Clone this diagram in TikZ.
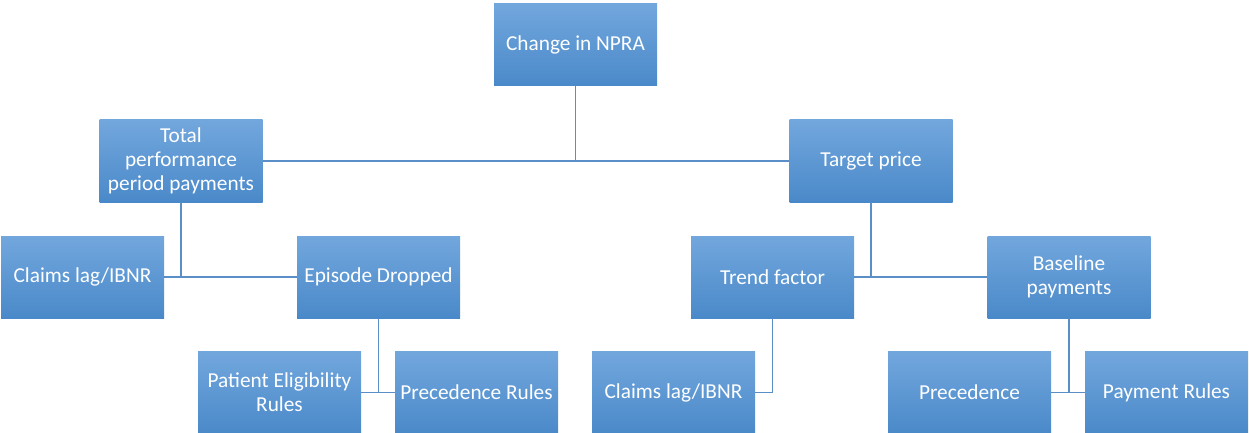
\documentclass[tikz,border=0pt]{standalone}
\usepackage{fontspec}
\setmainfont{Carlito}
\definecolor{boxtop}{HTML}{72A7DD}
\definecolor{boxbot}{HTML}{4A89C9}
\definecolor{linkc}{HTML}{5A8EC6}
\begin{document}
\begin{tikzpicture}[x=1pt,y=-1pt,
  box/.style={rectangle, minimum width=163pt, minimum height=82pt, inner sep=0pt,
    top color=boxtop, bottom color=boxbot, text=white, align=center,
    font=\fontsize{21.3}{24}\selectfont},
  link/.style={draw=linkc, line width=1.5pt}]
\useasboundingbox (0,0) rectangle (1249,433);
\node[box] (npra) at (575.5,45) {Change in NPRA};
\node[box] (tpp) at (181,161) {Total\\performance\\period payments};
\node[box] (tp) at (871,161) {Target price};
\node[box] (cl1) at (82.5,277) {Claims lag/IBNR};
\node[box] (ed) at (378.5,277) {Episode Dropped};
\node[box] (tf) at (772.5,277) {Trend factor};
\node[box] (bp) at (1069,277) {Baseline\\payments};
\node[box] (pe) at (279.5,392.5) {Patient Eligibility\\Rules};
\node[box] (pr) at (476.5,392.5) {Precedence Rules};
\node[box] (cl2) at (673.5,392.5) {Claims lag/IBNR};
\node[box] (prec) at (969.5,392.5) {Precedence};
\node[box] (pay) at (1166.5,392.5) {Payment Rules};
\draw[link] (npra.south) |- (tpp.east);
\draw[link] (npra.south) |- (tp.west);
\draw[link] (tpp.south) |- (cl1.east);
\draw[link] (tpp.south) |- (ed.west);
\draw[link] (tp.south) |- (tf.east);
\draw[link] (tp.south) |- (bp.west);
\draw[link] (ed.south) |- (pe.east);
\draw[link] (ed.south) |- (pr.west);
\draw[link] (tf.south) |- (cl2.east);
\draw[link] (bp.south) |- (prec.east);
\draw[link] (bp.south) |- (pay.west);
\end{tikzpicture}
\end{document}
